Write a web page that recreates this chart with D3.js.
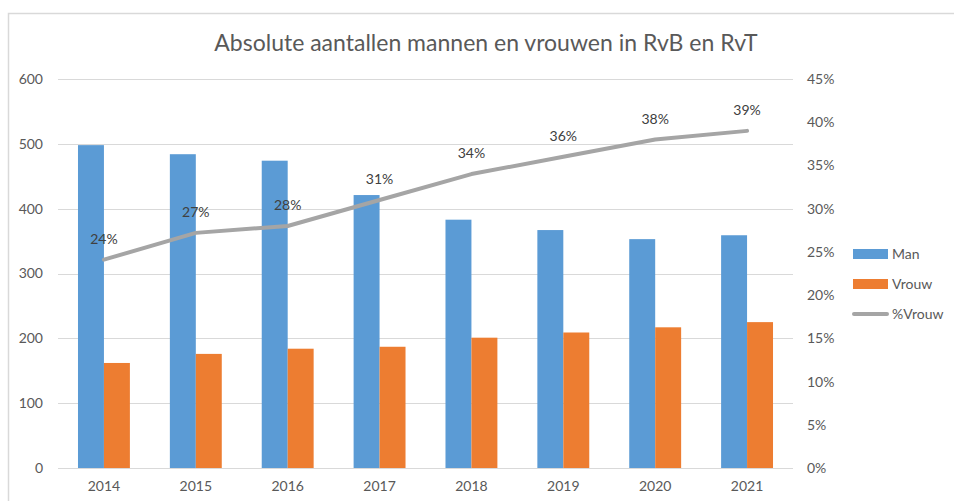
<!DOCTYPE html>
<html>
<head>
<meta charset="utf-8">
<script src="https://cdn.jsdelivr.net/npm/d3@7"></script>
<style>
  body { margin: 0; background: #fff; }
  text { font-family: Lato, "Open Sans", sans-serif; }
</style>
</head>
<body>
<div id="chart"></div>
<script>
// Data
var years = ["2014", "2015", "2016", "2017", "2018", "2019", "2020", "2021"];
var man = [498, 484, 474, 421, 383, 367, 353, 359];
var vrouw = [162, 176, 184, 187, 201, 209, 217, 225];
var pctVrouw = [0.241, 0.272, 0.28, 0.31, 0.34, 0.36, 0.38, 0.39];
var leftTicks = [0, 100, 200, 300, 400, 500, 600];
var rightTicks = [0, 0.05, 0.10, 0.15, 0.20, 0.25, 0.30, 0.35, 0.40, 0.45];
var seriesNames = ["Man", "Vrouw", "%Vrouw"];

var svgWidth = 954;
var svgHeight = 501;

var margins = { top: 79, right: 161, bottom: 33, left: 58 };
var width = svgWidth - margins.left - margins.right;
var height = svgHeight - margins.top - margins.bottom;

var colors = { man: "#5B9BD5", vrouw: "#ED7D31", line: "#A5A5A5" };
var textColor = "#595959";

var svg = d3.select("#chart")
  .append("svg")
  .attr("width", svgWidth)
  .attr("height", svgHeight);

// chart frame
svg.append("path")
  .attr("d", "M8.5,501 V13.5 H954")
  .attr("fill", "none")
  .attr("stroke", "#d9d9d9")
  .attr("stroke-width", 1.5);

// title
svg.append("text")
  .attr("x", 486)
  .attr("y", 51)
  .attr("text-anchor", "middle")
  .attr("font-size", 23)
  .attr("fill", textColor)
  .text("Absolute aantallen mannen en vrouwen in RvB en RvT");

var chartGroup = svg.append("g")
  .attr("transform", `translate(${margins.left}, ${margins.top})`);

// Scales
var xScale = d3.scaleBand()
  .domain(years)
  .range([0, width])
  .paddingInner(0.435)
  .paddingOuter(0.2175);

var yLeft = d3.scaleLinear().domain([0, 600]).range([height, 0]);
var yRight = d3.scaleLinear().domain([0, 0.45]).range([height, 0]);

// Gridlines
chartGroup.append("g")
  .selectAll("line")
  .data(leftTicks)
  .enter()
  .append("line")
  .attr("x1", 0)
  .attr("x2", width)
  .attr("y1", d => Math.round(yLeft(d)) + 0.5)
  .attr("y2", d => Math.round(yLeft(d)) + 0.5)
  .attr("stroke", "#d9d9d9")
  .attr("stroke-width", 1.2);

// Axes
var leftAxis = d3.axisLeft(yLeft).tickValues(leftTicks).tickSize(0).tickPadding(15);
var rightAxis = d3.axisRight(yRight).tickValues(rightTicks).tickSize(0).tickPadding(14)
  .tickFormat(d3.format(".0%"));
var bottomAxis = d3.axisBottom(xScale).tickSize(0).tickPadding(13);

var gl = chartGroup.append("g").call(leftAxis);
var gr = chartGroup.append("g").attr("transform", `translate(${width}, 0)`).call(rightAxis);
var gb = chartGroup.append("g").attr("transform", `translate(0, ${height})`).call(bottomAxis);

[gl, gr, gb].forEach(function(g) {
  g.select(".domain").remove();
  g.selectAll("text")
    .attr("fill", textColor)
    .attr("font-size", 14)
    .attr("font-family", "Lato, sans-serif");
});

// Bars
var bw = xScale.bandwidth() / 2;

chartGroup.append("g")
  .selectAll("rect")
  .data(man)
  .enter()
  .append("rect")
  .attr("x", (d, i) => xScale(years[i]))
  .attr("y", d => yLeft(d))
  .attr("width", bw)
  .attr("height", d => height - yLeft(d))
  .attr("fill", colors.man);

chartGroup.append("g")
  .selectAll("rect")
  .data(vrouw)
  .enter()
  .append("rect")
  .attr("x", (d, i) => xScale(years[i]) + bw)
  .attr("y", d => yLeft(d))
  .attr("width", bw)
  .attr("height", d => height - yLeft(d))
  .attr("fill", colors.vrouw);

// Line
var line = d3.line()
  .x((d, i) => xScale(years[i]) + xScale.bandwidth() / 2)
  .y(d => yRight(d));

chartGroup.append("path")
  .datum(pctVrouw)
  .attr("d", line)
  .attr("fill", "none")
  .attr("stroke", colors.line)
  .attr("stroke-width", 4)
  .attr("stroke-linecap", "round")
  .attr("stroke-linejoin", "round");

// Data labels
chartGroup.append("g")
  .selectAll("text")
  .data(pctVrouw)
  .enter()
  .append("text")
  .attr("x", (d, i) => xScale(years[i]) + xScale.bandwidth() / 2)
  .attr("y", d => yRight(d) - 16)
  .attr("text-anchor", "middle")
  .attr("font-size", 14)
  .attr("fill", "#404040")
  .text(d => d3.format(".0%")(d));

// Legend
var legend = svg.append("g").attr("transform", "translate(853, 254)");
seriesNames.forEach(function(name, i) {
  var g = legend.append("g").attr("transform", `translate(0, ${i * 30})`);
  if (i < 2) {
    g.append("rect")
      .attr("x", 0)
      .attr("y", -5)
      .attr("width", 35)
      .attr("height", 10)
      .attr("fill", i === 0 ? colors.man : colors.vrouw);
  } else {
    g.append("line")
      .attr("x1", 1)
      .attr("x2", 34)
      .attr("y1", 0)
      .attr("y2", 0)
      .attr("stroke", colors.line)
      .attr("stroke-width", 4)
      .attr("stroke-linecap", "round");
  }
  g.append("text")
    .attr("x", 39)
    .attr("y", 0)
    .attr("dy", "0.35em")
    .attr("font-size", 14)
    .attr("fill", textColor)
    .text(name);
});
</script>
</body>
</html>
